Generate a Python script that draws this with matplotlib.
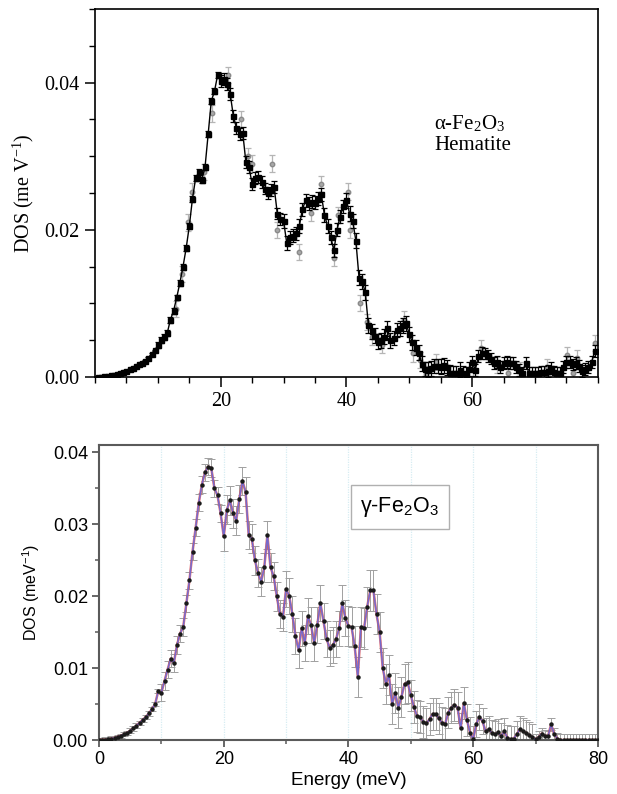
import numpy as np
import matplotlib
matplotlib.use("Agg")
import matplotlib.pyplot as plt
from matplotlib.ticker import MultipleLocator, FixedLocator, NullFormatter

plt.rcParams['mathtext.fontset'] = 'custom'
plt.rcParams['mathtext.rm'] = 'Liberation Sans'
plt.rcParams['mathtext.it'] = 'Liberation Sans:italic'

# ---------------- hematite (alpha-Fe2O3) ----------------
hem_energy = np.arange(0.5, 80.0, 0.5)
hem_dos = [
    0.00001, 0.00004, 0.00009, 0.00015, 0.00023, 0.00033, 0.00045, 0.00058, 0.00072, 0.00088,
    0.00105, 0.00125, 0.00145, 0.0017, 0.0019, 0.0022, 0.0026, 0.0031, 0.0036, 0.0043,
    0.0050, 0.0054, 0.0060, 0.0078, 0.0090, 0.0108, 0.0128, 0.0150, 0.0175, 0.0205,
    0.0242, 0.0270, 0.0278, 0.0268, 0.0285, 0.0330, 0.0375, 0.0388, 0.0410, 0.0402,
    0.0405, 0.0398, 0.0385, 0.0355, 0.0338, 0.0330, 0.0332, 0.0292, 0.0285, 0.0262,
    0.0270, 0.0272, 0.0265, 0.0256, 0.0250, 0.0254, 0.0258, 0.0222, 0.0215, 0.0212,
    0.0182, 0.0190, 0.0192, 0.0195, 0.0205, 0.0228, 0.0240, 0.0236, 0.0238, 0.0237,
    0.0242, 0.0248, 0.0220, 0.0205, 0.0190, 0.0172, 0.0200, 0.0218, 0.0232, 0.0240,
    0.0222, 0.0212, 0.0185, 0.0135, 0.0130, 0.0115, 0.0070, 0.0062, 0.0056, 0.0048,
    0.0050, 0.0055, 0.0066, 0.0050, 0.0053, 0.0064, 0.0066, 0.0070, 0.0073, 0.0058,
    0.0047, 0.0040, 0.0033, 0.0018, 0.0011, 0.0010, 0.0012, 0.0015, 0.0015, 0.0014,
    0.0016, 0.0013, 0.0006, 0.0005, 0.0005, 0.0010, 0.0005, 0.0003, 0.0011, 0.0020,
    0.0010, 0.0028, 0.0033, 0.0032, 0.0028, 0.0025, 0.0019, 0.0020, 0.0014, 0.0019,
    0.0020, 0.0019, 0.0019, 0.0014, 0.0010, 0.0006, 0.0019, 0.0006, 0.0005, 0.0005,
    0.0006, 0.0007, 0.0007, 0.0008, 0.0012, 0.0007, 0.0005, 0.0005, 0.0014, 0.0020,
    0.0020, 0.0017, 0.0019, 0.0015, 0.0008, 0.0011, 0.0014, 0.0020, 0.0035,
]
# error half-widths per 10 meV band
hem_err_bands = [0.0001, 0.0004, 0.0008, 0.0009, 0.0010, 0.0010, 0.0008, 0.0008]

# second hematite measurement (grey points)
hem2_energy = [12.9, 13.9, 14.8, 15.5, 17.3, 18.6, 21.2, 23.2, 24.3, 24.9, 28.2, 29.0,
               32.4, 34.3, 35.9, 38.0, 38.7, 40.3, 40.6, 42.2, 43.3, 44.1, 45.6, 49.1,
               50.6, 51.7, 52.6, 54.3, 60.2, 61.4, 63.9, 65.7, 67.6, 71.9, 75.1, 76.1,
               76.7, 79.5]
hem2_dos = [0.0092, 0.0140, 0.0210, 0.0252, 0.0278, 0.0358, 0.0410, 0.0350, 0.0300, 0.0290,
            0.0290, 0.0200, 0.0170, 0.0223, 0.0262, 0.0162, 0.0220, 0.0252, 0.0200, 0.0100,
            0.0075, 0.0054, 0.0044, 0.0078, 0.0032, 0.0023, 0.0004, 0.0020, 0.0010, 0.0039,
            0.0016, 0.0005, 0.0010, 0.0014, 0.0030, 0.0005, 0.0026, 0.0046]
hem2_err = 0.0011

# ---------------- maghemite (gamma-Fe2O3) ----------------
mag_energy = np.arange(0.0, 80.01, 0.5)
mag_dos = [
    0.0, 0.00002, 0.00005, 0.0001, 0.0002, 0.0003, 0.00045, 0.0006, 0.0008, 0.0010,
    0.0013, 0.0016, 0.0020, 0.0024, 0.0028, 0.0032, 0.0037, 0.0043, 0.0050, 0.0068,
    0.0066, 0.0082, 0.0098, 0.0113, 0.0107, 0.0132, 0.0148, 0.0157, 0.0190, 0.0222,
    0.0262, 0.0295, 0.0330, 0.0355, 0.0372, 0.0380, 0.0378, 0.0350, 0.0340, 0.0315,
    0.0283, 0.0320, 0.0333, 0.0315, 0.0305, 0.0335, 0.0360, 0.0345, 0.0285, 0.0280,
    0.0250, 0.0232, 0.0220, 0.0240, 0.0285, 0.0240, 0.0228, 0.0200, 0.0175, 0.0171,
    0.0210, 0.0200, 0.0175, 0.0145, 0.0125, 0.0155, 0.0135, 0.0172, 0.0160, 0.0135,
    0.0160, 0.0190, 0.0165, 0.0140, 0.0128, 0.0132, 0.0140, 0.0155, 0.0190, 0.0170,
    0.0158, 0.0157, 0.0130, 0.0088, 0.0157, 0.0155, 0.0185, 0.0208, 0.0208, 0.0175,
    0.0150, 0.0100, 0.0078, 0.0090, 0.0050, 0.0065, 0.0045, 0.0060, 0.0078, 0.0080,
    0.0062, 0.0046, 0.0033, 0.0032, 0.0025, 0.0023, 0.0029, 0.0036, 0.0036, 0.0030,
    0.0024, 0.0022, 0.0038, 0.0045, 0.0049, 0.0045, 0.0016, 0.0051, 0.0028, 0.0010,
    0.0001, 0.0022, 0.0032, 0.0026, 0.0012, 0.0015, 0.0010, 0.0008, 0.0011, 0.0005,
    0.0012, 0.0003, 0.0001, 0.0002, 0.0008, 0.0015, 0.0012, 0.0010, 0.0007, 0.0004,
    0.0001, 0.0004, 0.0009, 0.0006, 0.0005, 0.0022, 0.0008, 0.0002, 0.0, 0.0,
    0.0, 0.0, 0.0, 0.0, 0.0, 0.0, 0.0, 0.0, 0.0, 0.0, 0.0,
]
mag_err_bands = [0.0003, 0.0012, 0.0020, 0.0025, 0.0028, 0.0022, 0.0018, 0.0008]


def band_errors(energy, bands):
    idx = np.clip((np.asarray(energy) // 10).astype(int), 0, len(bands) - 1)
    return np.asarray(bands)[idx]


fig = plt.figure(figsize=(6.17, 7.94), dpi=100)

# ---------- top panel ----------
serif = 'Liberation Serif'
ax1 = fig.add_axes([0.154, 0.5252, 0.815, 0.4635])
ax1.errorbar(hem2_energy, hem2_dos, yerr=hem2_err, fmt='o', color='#9a9a9a',
             ecolor='#b5b5b5', elinewidth=0.9, capsize=2.2, capthick=0.9,
             markersize=3.2, markerfacecolor='#a8a8a8', markeredgecolor='#8a8a8a',
             zorder=2)
ax1.errorbar(hem_energy, hem_dos, yerr=band_errors(hem_energy, hem_err_bands),
             fmt='s-', color='black', ecolor='black', elinewidth=0.9, capsize=2.2,
             capthick=0.9, markersize=3.6, linewidth=1.0, zorder=3)
ax1.set_xlim(0, 80)
ax1.set_ylim(0, 0.05)
ax1.xaxis.set_major_locator(FixedLocator([20, 40, 60]))
ax1.xaxis.set_minor_locator(MultipleLocator(5))
ax1.yaxis.set_major_locator(FixedLocator([0.0, 0.02, 0.04]))
ax1.yaxis.set_minor_locator(MultipleLocator(0.005))
ax1.set_yticklabels(['0.00', '0.02', '0.04'])
for s in ['top', 'right', 'left', 'bottom']:
    ax1.spines[s].set_linewidth(1.2)
ax1.tick_params(which='major', direction='out', length=7, width=1.1,
                labelsize=14.5, pad=4)
ax1.tick_params(which='minor', direction='out', length=4, width=1.0)
for lab in ax1.get_xticklabels() + ax1.get_yticklabels():
    lab.set_fontfamily(serif)
ax1.set_ylabel(r'DOS (me V$^{\mathregular{-1}}$)', fontsize=14.5, family=serif,
               labelpad=6)
ax1.text(0.674, 0.687, r'$\mathregular{\alpha}$-Fe$_{\mathregular{2}}$O$_{\mathregular{3}}$',
         transform=ax1.transAxes, fontsize=15, family=serif, va='center',
         math_fontfamily='stix')
ax1.text(0.674, 0.630, 'Hematite', transform=ax1.transAxes, fontsize=15,
         family=serif, va='center')

# ---------- bottom panel ----------
sans = 'Liberation Sans'
spine_grey = '#5a5a5a'
ax2 = fig.add_axes([0.1605, 0.068, 0.8085, 0.3715])
for xv in range(10, 80, 10):
    ax2.axvline(xv, color='#d6ecf2', linewidth=0.9, linestyle=(0, (1, 1)), zorder=0)
mag_err = band_errors(mag_energy, mag_err_bands)
ax2.errorbar(mag_energy, mag_dos, yerr=mag_err, fmt='none', ecolor='#a0a0a0',
             elinewidth=0.7, capsize=3.0, capthick=0.7, zorder=1)
ax2.plot(mag_energy, mag_dos, color='#e05050', linewidth=1.8, alpha=0.8, zorder=2)
ax2.plot(mag_energy, mag_dos, color='#6a6ad8', linewidth=1.1, alpha=0.9, zorder=3)
ax2.plot(mag_energy, mag_dos, 'o', color='#1a1a1a', markersize=2.2, zorder=4)
ax2.set_xlim(0, 80)
ax2.set_ylim(0, 0.041)
ax2.xaxis.set_major_locator(MultipleLocator(20))
ax2.xaxis.set_minor_locator(MultipleLocator(10))
ax2.yaxis.set_major_locator(MultipleLocator(0.01))
ax2.yaxis.set_minor_locator(MultipleLocator(0.005))
ax2.set_yticks([0.0, 0.01, 0.02, 0.03, 0.04])
ax2.set_yticklabels(['0.00', '0.01', '0.02', '0.03', '0.04'])
for s in ['top', 'right', 'left', 'bottom']:
    ax2.spines[s].set_linewidth(1.5)
    ax2.spines[s].set_color(spine_grey)
ax2.tick_params(which='major', direction='out', length=5, width=1.3,
                color=spine_grey, labelsize=13, pad=3)
ax2.tick_params(which='minor', direction='out', length=3, width=1.1,
                color=spine_grey)
for lab in ax2.get_xticklabels() + ax2.get_yticklabels():
    lab.set_fontfamily(sans)
ax2.set_xlabel('Energy (meV)', fontsize=13.5, family=sans, labelpad=3)
ax2.set_ylabel(r'DOS (meV$^{\mathregular{-1}}$)', fontsize=11.5, family=sans,
               labelpad=8)
ax2.text(0.603, 0.79, 'γ-Fe$_{\\mathregular{2}}$O$_{\\mathregular{3}}$',
         transform=ax2.transAxes, fontsize=15.5, family=sans, ha='center',
         va='center',
         bbox=dict(boxstyle='square,pad=0.45', facecolor='white',
                   edgecolor='#b0b0b0', linewidth=1.0))

fig.savefig('out.png', dpi=100)
